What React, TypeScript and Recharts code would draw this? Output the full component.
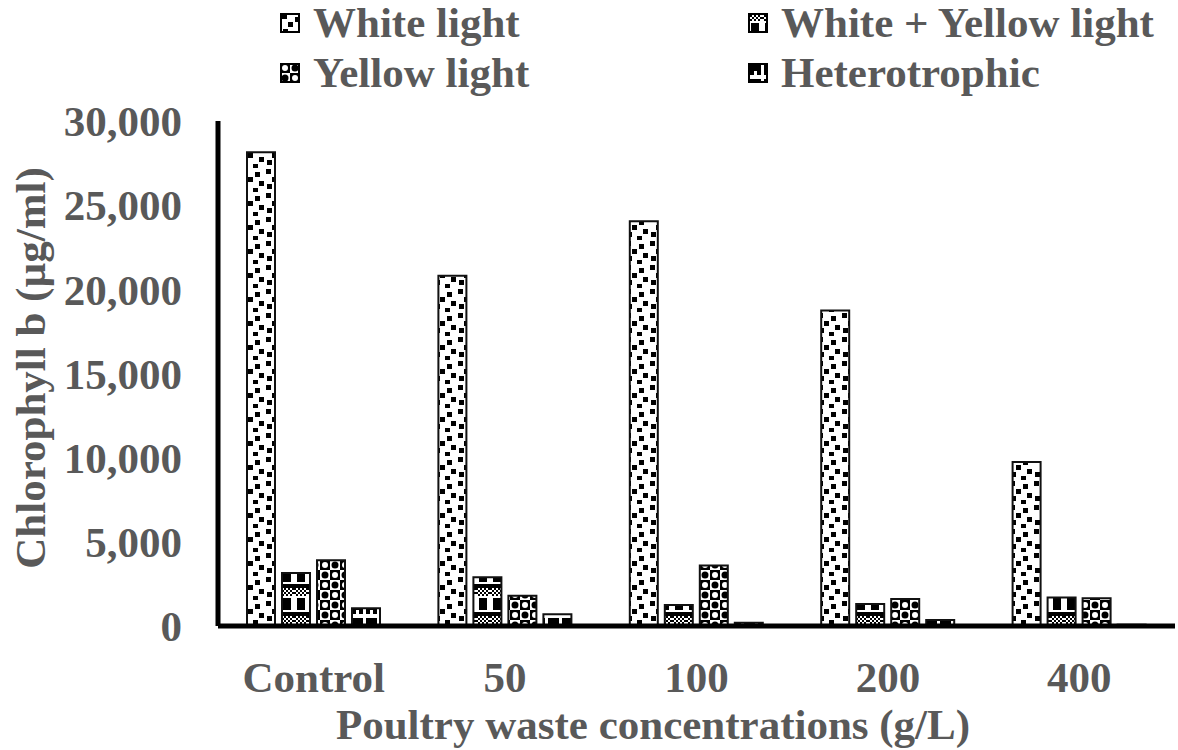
import { BarChart, Bar, XAxis, YAxis, Legend, Label } from 'recharts'

const categories = ['Control', '50', '100', '200', '400']
const whiteLight = [28150, 20800, 24050, 18750, 9750]
const whiteYellowLight = [3150, 2900, 1250, 1300, 1700]
const yellowLight = [3900, 1800, 3600, 1600, 1650]
const heterotrophic = [1050, 700, 200, 350, 80]
const yTicks = [0, 5000, 10000, 15000, 20000, 25000, 30000]

const series = [
  { key: 'white', name: 'White light', fill: 'url(#pWhite)' },
  { key: 'whiteYellow', name: 'White + Yellow light', fill: 'url(#pWY)' },
  { key: 'yellow', name: 'Yellow light', fill: 'url(#pYellow)' },
  { key: 'hetero', name: 'Heterotrophic', fill: 'url(#pHet)' },
]

const data = categories.map((c, i) => ({
  name: c,
  white: whiteLight[i],
  whiteYellow: whiteYellowLight[i],
  yellow: yellowLight[i],
  hetero: heterotrophic[i],
}))

const FONT = '"Liberation Serif", "Times New Roman", serif'
const GREY = '#595959'

function Patterns() {
  const checks = []
  for (let r = 0; r < 4; r++) {
    for (let c = 0; c < 7; c++) {
      if ((r + c) % 2 === 0) checks.push(<rect key={`${r}-${c}`} x={c * 2} y={r * 2} width={2} height={2} fill="#000" />)
    }
  }
  return (
    <defs>
      <pattern id="pWhite" width={24} height={24} patternUnits="userSpaceOnUse">
        <rect width={24} height={24} fill="#fff" />
        <rect x={2} y={1} width={5} height={5} fill="#000" />
        <rect x={15} y={4} width={5} height={5} fill="#000" />
        <rect x={8} y={9} width={5} height={5} fill="#000" />
        <rect x={19} y={13} width={5} height={5} fill="#000" />
        <rect x={3} y={16} width={5} height={5} fill="#000" />
        <rect x={13} y={20} width={5} height={4} fill="#000" />
      </pattern>
      <pattern id="pWY" width={14} height={28} patternUnits="userSpaceOnUse">
        <rect width={14} height={28} fill="#fff" />
        {checks}
        <rect x={3} y={10} width={8} height={12} fill="#000" />
        <rect x={0} y={24} width={14} height={4} fill="#000" />
      </pattern>
      <pattern id="pYellow" width={20} height={20} patternUnits="userSpaceOnUse">
        <rect width={20} height={20} fill="#fff" />
        <rect x={0} y={0} width={10} height={10} fill="#000" />
        <rect x={10} y={10} width={10} height={10} fill="#000" />
        <circle cx={5} cy={5} r={3} fill="#fff" />
        <circle cx={15} cy={5} r={3.5} fill="#000" />
        <circle cx={15} cy={15} r={3} fill="#fff" />
        <circle cx={5} cy={15} r={3.5} fill="#000" />
      </pattern>
      <pattern id="pHet" width={14} height={14} patternUnits="userSpaceOnUse">
        <rect width={14} height={14} fill="#fff" />
        <path d="M2 2 H13 V12 H9 V8 H6 V12 H2 Z" fill="#000" />
      </pattern>
    </defs>
  )
}

function LegendContent() {
  return (
    <div
      style={{
        display: 'grid',
        gridTemplateColumns: '468px 420px',
        rowGap: 4,
        fontFamily: FONT,
        fontWeight: 'bold',
        fontSize: 43,
        lineHeight: '46px',
        color: GREY,
        whiteSpace: 'nowrap',
      }}
    >
      {series.map((s) => (
        <div key={s.key} style={{ display: 'flex', alignItems: 'center' }}>
          <svg width={20} height={20} style={{ marginRight: 13 }}>
            <rect x={1} y={1} width={18} height={18} fill={s.fill} stroke="#000" strokeWidth={2} />
          </svg>
          <span>{s.name}</span>
        </div>
      ))}
    </div>
  )
}

export default function App() {
  return (
    <div style={{ position: 'absolute', left: 0, top: 0, width: 1178, height: 750, background: '#fff' }}>
      <BarChart
        width={1178}
        height={750}
        data={data}
        margin={{ top: 121, right: 3, left: 0, bottom: 0 }}
        barSize={28}
        barGap={7}
        barCategoryGap="15%"
      >
        <Patterns />
        <Legend
          layout="vertical"
          align="center"
          verticalAlign="middle"
          content={() => <LegendContent />}
          wrapperStyle={{ position: 'absolute', top: 0, left: 280, width: 898, height: 100 }}
        />
        <XAxis
          dataKey="name"
          height={124}
          axisLine={{ stroke: '#000', strokeWidth: 5 }}
          tickLine={false}
          tickSize={0}
          tickMargin={0}
          tick={({ x, y, payload }: { x: number; y: number; payload: { value: string } }) => (
            <text x={x} y={y + 66} textAnchor="middle" fontFamily={FONT} fontWeight="bold" fontSize={43} fill={GREY}>
              {payload.value}
            </text>
          )}
        >
          <Label
            content={() => (
              <text x={653} y={739} textAnchor="middle" fontFamily={FONT} fontWeight="bold" fontSize={43} fill={GREY}>
                Poultry waste concentrations (g/L)
              </text>
            )}
          />
        </XAxis>
        <YAxis
          width={218}
          domain={[0, 30000]}
          ticks={yTicks}
          interval={0}
          axisLine={{ stroke: '#000', strokeWidth: 5 }}
          tickLine={false}
          tickSize={0}
          tickMargin={36}
          tickFormatter={(v: number) => v.toLocaleString('en-US')}
          tick={{ fontFamily: FONT, fontWeight: 'bold', fontSize: 43, fill: GREY }}
        >
          <Label
            content={() => (
              <text
                x={30}
                y={368}
                transform="rotate(-90 30 368)"
                textAnchor="middle"
                dominantBaseline="central"
                fontFamily={FONT}
                fontWeight="bold"
                fontSize={43}
                fill={GREY}
              >
                Chlorophyll b (µg/ml)
              </text>
            )}
          />
        </YAxis>
        {series.map((s) => (
          <Bar
            key={s.key}
            dataKey={s.key}
            name={s.name}
            fill={s.fill}
            stroke="#111"
            strokeWidth={2}
            isAnimationActive={false}
          />
        ))}
      </BarChart>
    </div>
  )
}
